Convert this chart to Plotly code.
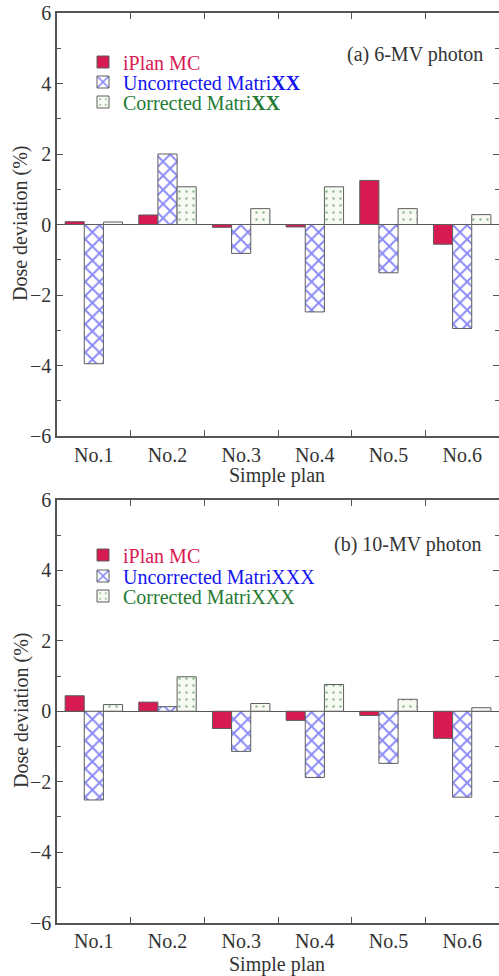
import plotly.graph_objects as go

# Plan labels and dose deviations (%) for each beam energy
plans = ["No.1", "No.2", "No.3", "No.4", "No.5", "No.6"]

iplan_6mv = [0.08, 0.27, -0.08, -0.07, 1.25, -0.56]
uncorr_6mv = [-3.95, 2.0, -0.82, -2.48, -1.37, -2.95]
corr_6mv = [0.07, 1.07, 0.45, 1.07, 0.45, 0.28]

iplan_10mv = [0.44, 0.26, -0.49, -0.26, -0.12, -0.77]
uncorr_10mv = [-2.52, 0.13, -1.14, -1.88, -1.48, -2.44]
corr_10mv = [0.19, 0.98, 0.22, 0.76, 0.34, 0.1]

FONT = "Liberation Serif"
RED = "#d81a52"
BLUE = "#1414f0"
GREEN = "#257a34"
EDGE = "#5e5e5e"
AXIS = "#555555"

W, H = 499.0, 976.0

fig = go.Figure()


def add_panel(iplan, uncorr, corr, xa, ya, legends, xx):
    fig.add_bar(
        x=plans, y=iplan, xaxis=xa, yaxis=ya, legend=legends[0],
        name=f'<span style="color:{RED}">iPlan MC</span>',
        marker=dict(color=RED, line=dict(color=EDGE, width=1)),
    )
    fig.add_bar(
        x=plans, y=uncorr, xaxis=xa, yaxis=ya, legend=legends[1],
        name=f'<span style="color:{BLUE}">Uncorrected Matri{xx}</span>',
        marker=dict(
            color="white", line=dict(color=EDGE, width=1),
            pattern=dict(shape="x", fgcolor=BLUE, bgcolor="white",
                         size=10, solidity=0.35, fillmode="overlay"),
        ),
    )
    fig.add_bar(
        x=plans, y=corr, xaxis=xa, yaxis=ya, legend=legends[2],
        name=f'<span style="color:{GREEN}">Corrected Matri{xx}</span>',
        marker=dict(
            color="#f7f9f3", line=dict(color=EDGE, width=1),
            pattern=dict(shape=".", fgcolor=GREEN, bgcolor="#f7f9f3",
                         size=7, solidity=0.1, fillmode="overlay"),
        ),
    )


add_panel(iplan_6mv, uncorr_6mv, corr_6mv, "x", "y",
          ["legend", "legend2", "legend3"], "<b>XX</b>")
add_panel(iplan_10mv, uncorr_10mv, corr_10mv, "x2", "y2",
          ["legend4", "legend5", "legend6"], "XXX")

top_dom = [1 - 436 / H, 1 - 13 / H]
bot_dom = [1 - 922.5 / H, 1 - 500 / H]
x_dom = [57 / W, 1.0]

tickfont = dict(family=FONT, size=20, color="#333333")


def xaxis(anchor):
    return dict(
        domain=x_dom, anchor=anchor, type="category", automargin=False,
        tickson="boundaries", ticks="inside", ticklen=6,
        tickcolor=AXIS, showline=True, linecolor=AXIS, linewidth=1.5,
        mirror="ticks", tickfont=tickfont, showgrid=False,
    )


def yaxis(anchor, dom):
    return dict(
        domain=dom, anchor=anchor, range=[-6, 6], dtick=2, automargin=False,
        ticks="inside", ticklen=6, tickcolor=AXIS,
        minor=dict(ticks="inside", ticklen=4, dtick=1, tickcolor=AXIS,
                   showgrid=False),
        showline=True, linecolor=AXIS, linewidth=1.5, mirror="ticks",
        tickfont=tickfont, showgrid=False,
        zeroline=True, zerolinecolor="#555555", zerolinewidth=1,
    )


def legend_at(ypx):
    return dict(
        x=83 / W, y=1 - ypx / H, xanchor="left", yanchor="middle",
        font=dict(family=FONT, size=20), bgcolor="rgba(0,0,0,0)",
        itemwidth=30,
    )


fig.update_layout(
    width=499, height=976,
    margin=dict(l=0, r=0, t=0, b=0, autoexpand=False),
    paper_bgcolor="white", plot_bgcolor="white",
    font=dict(family=FONT, color="#333333"),
    showlegend=True,
    barmode="group", bargap=0.22, bargroupgap=0,
    xaxis=xaxis("y"), yaxis=yaxis("x", top_dom),
    xaxis2=xaxis("y2"), yaxis2=yaxis("x2", bot_dom),
    legend=legend_at(62), legend2=legend_at(82), legend3=legend_at(102),
    legend4=legend_at(555), legend5=legend_at(576), legend6=legend_at(596),
)

ann_font = dict(family=FONT, size=20, color="#333333")
title_font = dict(family=FONT, size=20, color="#333333")
fig.add_annotation(text="(a) 6-MV photon", x=485 / W, y=1 - 55 / H,
                   xref="paper", yref="paper", xanchor="right",
                   yanchor="middle", showarrow=False, font=ann_font)
fig.add_annotation(text="(b) 10-MV photon", x=483 / W, y=1 - 544 / H,
                   xref="paper", yref="paper", xanchor="right",
                   yanchor="middle", showarrow=False, font=ann_font)
for ymid in (1 - 223 / H, 1 - 710 / H):
    fig.add_annotation(text="Dose deviation (%)", x=21 / W, y=ymid,
                       xref="paper", yref="paper", textangle=-90,
                       xanchor="center", yanchor="middle",
                       showarrow=False, font=title_font)
for ytxt in (1 - 476 / H, 1 - 964 / H):
    fig.add_annotation(text="Simple plan", x=277 / W, y=ytxt,
                       xref="paper", yref="paper", xanchor="center",
                       yanchor="middle", showarrow=False, font=title_font)

fig.write_html("out.html")
